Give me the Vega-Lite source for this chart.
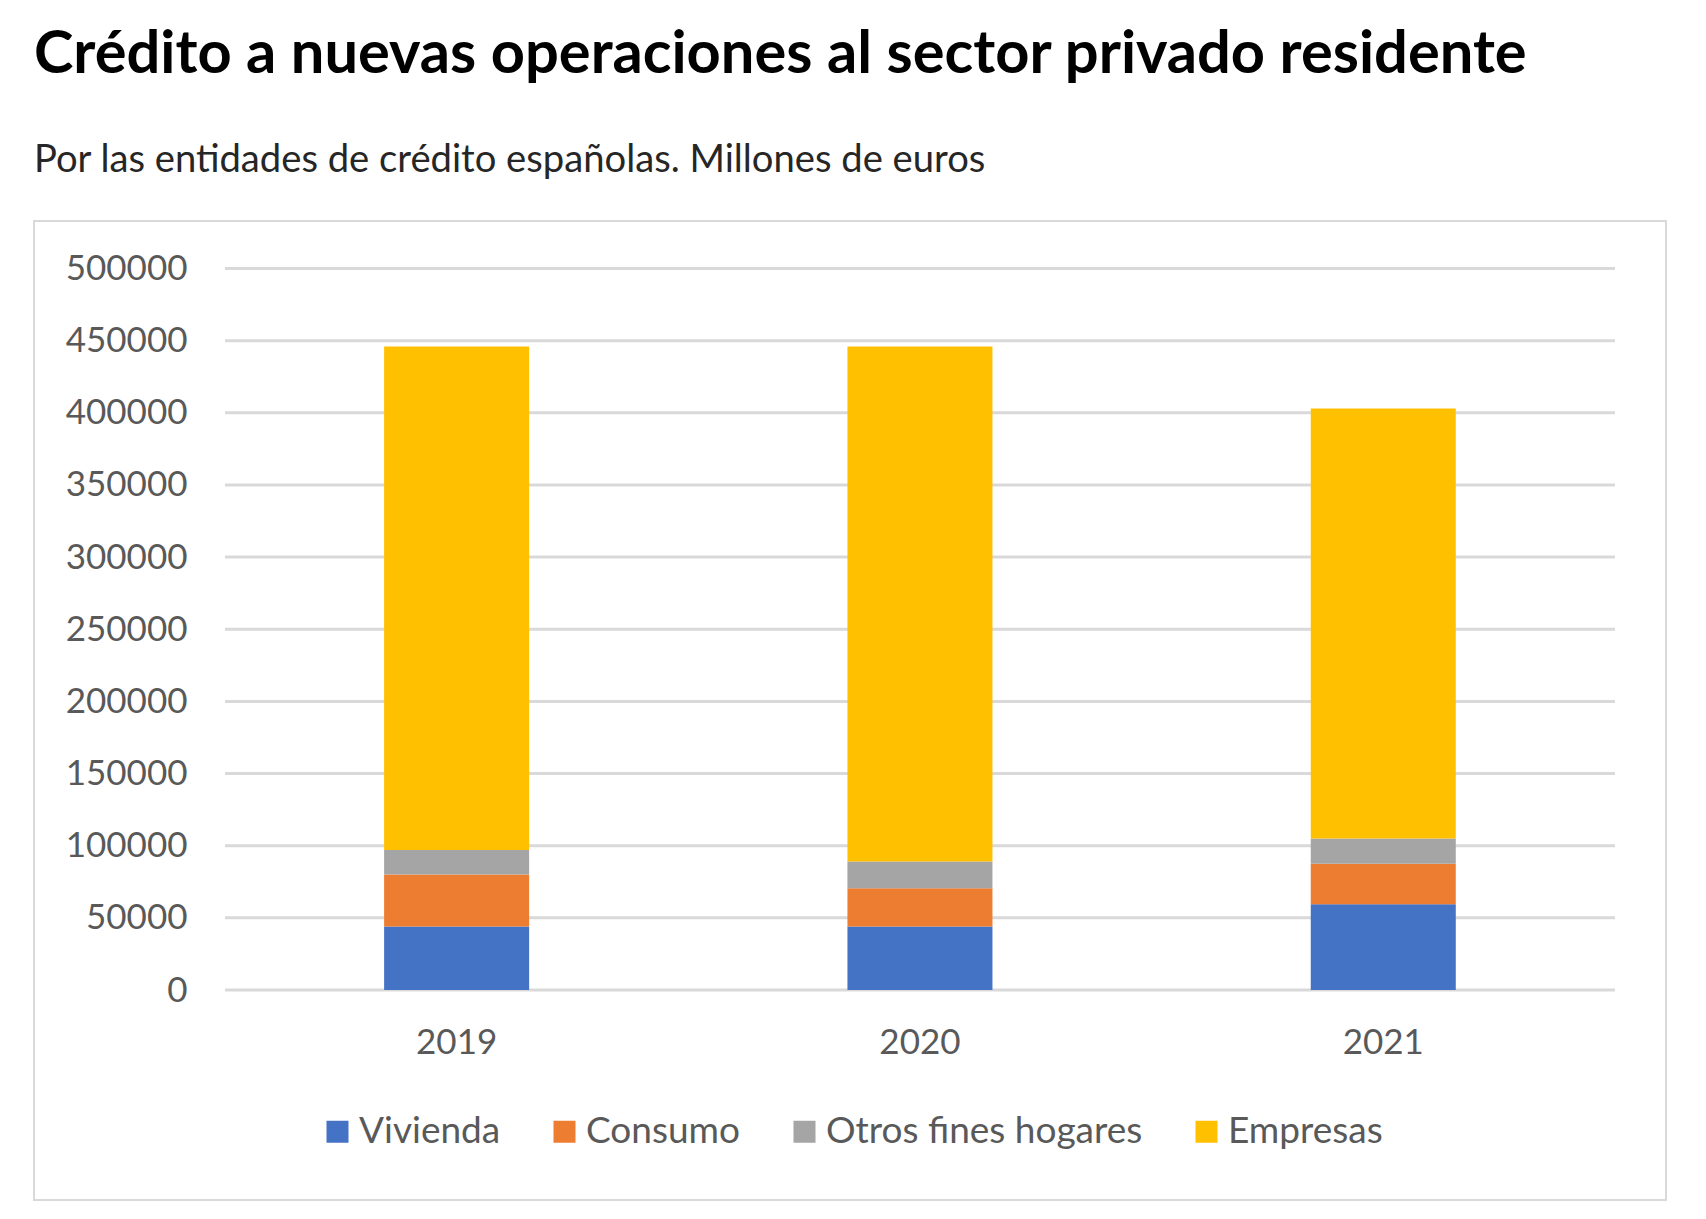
{
  "$schema": "https://vega.github.io/schema/vega-lite/v6.json",
  "width": 1632,
  "height": 979,
  "autosize": {"type": "none"},
  "padding": {"left": 34, "top": 221, "right": 40, "bottom": 19},
  "background": "#ffffff",
  "title": {
    "text": "Crédito a nuevas operaciones al sector privado residente",
    "subtitle": "Por las entidades de crédito españolas. Millones de euros",
    "anchor": "start",
    "frame": "group",
    "font": "Lato",
    "fontSize": 59.6,
    "fontWeight": "bold",
    "color": "#000000",
    "subtitleFont": "Lato",
    "subtitleFontSize": 38.2,
    "subtitleColor": "#262626",
    "subtitlePadding": 56,
    "offset": 41
  },
  "config": {
    "view": {"stroke": "#d9d9d9", "strokeWidth": 2},
    "font": "Lato"
  },
  "datasets": {
    "credito": [
      {"año": "2019", "serie": "Vivienda", "orden": 1, "valor": 44000},
      {"año": "2019", "serie": "Consumo", "orden": 2, "valor": 36000},
      {"año": "2019", "serie": "Otros fines hogares", "orden": 3, "valor": 17000},
      {"año": "2019", "serie": "Empresas", "orden": 4, "valor": 349000},
      {"año": "2020", "serie": "Vivienda", "orden": 1, "valor": 44000},
      {"año": "2020", "serie": "Consumo", "orden": 2, "valor": 26500},
      {"año": "2020", "serie": "Otros fines hogares", "orden": 3, "valor": 18500},
      {"año": "2020", "serie": "Empresas", "orden": 4, "valor": 357000},
      {"año": "2021", "serie": "Vivienda", "orden": 1, "valor": 59500},
      {"año": "2021", "serie": "Consumo", "orden": 2, "valor": 28000},
      {"año": "2021", "serie": "Otros fines hogares", "orden": 3, "valor": 17500},
      {"año": "2021", "serie": "Empresas", "orden": 4, "valor": 298000}
    ],
    "rejilla": [
      {"v": 0}, {"v": 50000}, {"v": 100000}, {"v": 150000}, {"v": 200000},
      {"v": 250000}, {"v": 300000}, {"v": 350000}, {"v": 400000},
      {"v": 450000}, {"v": 500000}
    ]
  },
  "layer": [
    {
      "data": {"name": "rejilla"},
      "mark": {"type": "rule", "color": "#d9d9d9", "strokeWidth": 3},
      "encoding": {
        "y": {"field": "v", "type": "quantitative", "scale": {"domain": [-145530, 532918], "nice": false, "zero": false}},
        "x": {"datum": "2019", "type": "nominal", "bandPosition": 0},
        "x2": {"datum": "2021", "bandPosition": 1}
      }
    },
    {
      "data": {"name": "credito"},
      "mark": {"type": "bar", "width": {"band": 0.313}},
      "encoding": {
        "x": {
          "field": "año",
          "type": "nominal",
          "scale": {"domain": ["2019", "2020", "2021"], "paddingInner": 0, "paddingOuter": 0.2612, "align": 0.789},
          "axis": {
            "title": null,
            "labelAngle": 0,
            "labelAlign": "center",
            "domain": false,
            "ticks": false,
            "offset": -210,
            "labelPadding": 52,
            "labelFont": "Lato",
            "labelFontSize": 35,
            "labelColor": "#595959"
          }
        },
        "y": {
          "field": "valor",
          "type": "quantitative",
          "stack": "zero",
          "scale": {"domain": [-145530, 532918], "nice": false, "zero": false},
          "axis": {
            "title": null,
            "values": [0, 50000, 100000, 150000, 200000, 250000, 300000, 350000, 400000, 450000, 500000],
            "format": "d",
            "grid": false,
            "domain": false,
            "ticks": false,
            "offset": -191,
            "labelPadding": 38,
            "labelFont": "Lato",
            "labelFontSize": 35,
            "labelColor": "#595959"
          }
        },
        "order": {"field": "orden", "type": "quantitative", "sort": "ascending"},
        "color": {
          "field": "serie",
          "type": "nominal",
          "sort": ["Vivienda", "Consumo", "Otros fines hogares", "Empresas"],
          "scale": {
            "domain": ["Vivienda", "Consumo", "Otros fines hogares", "Empresas"],
            "range": ["#4472C4", "#ED7D31", "#A5A5A5", "#FFC000"]
          },
          "legend": {
            "title": null,
            "orient": "none",
            "legendX": 285,
            "legendY": 892,
            "direction": "horizontal",
            "columns": 4,
            "symbolType": "square",
            "symbolSize": 484,
            "symbolStrokeWidth": 0,
            "symbolOpacity": 1,
            "labelFont": "Lato",
            "labelFontSize": 37,
            "labelColor": "#595959",
            "labelOffset": 3,
            "labelLimit": 0,
            "columnPadding": 45
          }
        }
      }
    }
  ]
}
